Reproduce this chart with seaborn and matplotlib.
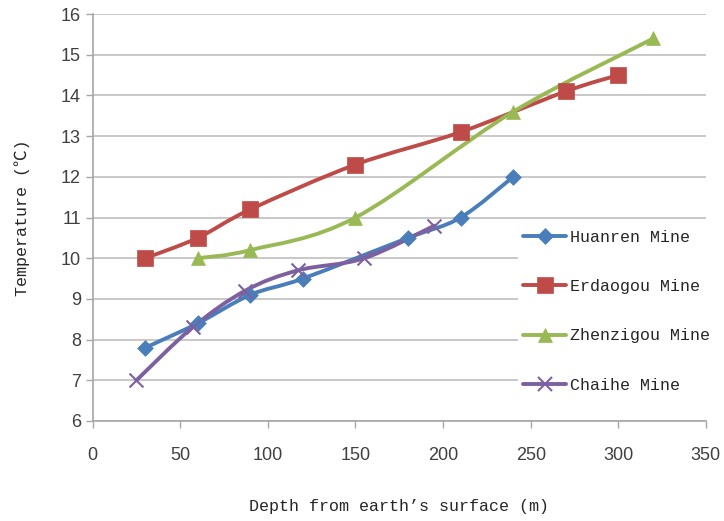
import numpy as np
import pandas as pd
import seaborn as sns
import matplotlib
matplotlib.use("Agg")
import matplotlib.pyplot as plt
from matplotlib.path import Path
from matplotlib.patches import PathPatch
from matplotlib.lines import Line2D

# data
huanren_depth = [30, 60, 90, 120, 180, 210, 240]
huanren_temp = [7.8, 8.4, 9.1, 9.5, 10.5, 11.0, 12.0]

erdaogou_depth = [30, 60, 90, 150, 210, 270, 300]
erdaogou_temp = [10.0, 10.5, 11.2, 12.3, 13.1, 14.1, 14.5]

zhenzigou_depth = [60, 90, 150, 240, 320]
zhenzigou_temp = [10.0, 10.2, 11.0, 13.6, 15.4]

chaihe_depth = [25, 57, 87, 117, 155, 195]
chaihe_temp = [7.0, 8.3, 9.2, 9.7, 10.0, 10.8]

mines = ["Huanren Mine", "Erdaogou Mine", "Zhenzigou Mine", "Chaihe Mine"]
colors = ["#4A7EBB", "#BE4B48", "#98B954", "#7D60A0"]
markers = ["D", "s", "^", "x"]
msizes = [8, 11, 10, 10]

frames = []
for name, d, t in [(mines[0], huanren_depth, huanren_temp),
                   (mines[1], erdaogou_depth, erdaogou_temp),
                   (mines[2], zhenzigou_depth, zhenzigou_temp),
                   (mines[3], chaihe_depth, chaihe_temp)]:
    frames.append(pd.DataFrame({"depth": d, "temp": t, "mine": name}))
df = pd.concat(frames, ignore_index=True)


def smooth_path(x, y):
    # excel-like smoothed line: cubic bezier through the points
    x = np.asarray(x, float)
    y = np.asarray(y, float)
    verts = [(x[0], y[0])]
    codes = [Path.MOVETO]
    n = len(x)
    for i in range(n - 1):
        x0, y0 = (x[i - 1], y[i - 1]) if i > 0 else (x[i], y[i])
        x3, y3 = (x[i + 2], y[i + 2]) if i + 2 < n else (x[i + 1], y[i + 1])
        c1 = (x[i] + (x[i + 1] - x0) / 6, y[i] + (y[i + 1] - y0) / 6)
        c2 = (x[i + 1] - (x3 - x[i]) / 6, y[i + 1] - (y3 - y[i]) / 6)
        verts += [c1, c2, (x[i + 1], y[i + 1])]
        codes += [Path.CURVE4] * 3
    return Path(verts, codes)


sns.set_theme(style="white")
plt.rcParams['font.family'] = ['Liberation Sans', 'DejaVu Sans']

fig = plt.figure(figsize=(7.24, 5.21), dpi=100)
ax = fig.add_axes([0.128, 0.192, 0.847, 0.781])

ax.grid(axis="y", color="#BFBFBF", linewidth=1.2)
ax.set_axisbelow(True)

for name, c, m, ms in zip(mines, colors, markers, msizes):
    sub = df[df["mine"] == name]
    ax.add_patch(PathPatch(smooth_path(sub["depth"], sub["temp"]),
                           facecolor="none", edgecolor=c, linewidth=2.8,
                           zorder=2, capstyle="round", joinstyle="round"))
    sns.scatterplot(data=sub, x="depth", y="temp", ax=ax, color=c,
                    marker=m, s=ms ** 2,
                    linewidth=1.5 if m == "x" else 0.5,
                    edgecolor=c, zorder=3, legend=False)

ax.set_xlim(0, 350)
ax.set_ylim(6, 16)
ax.set_xticks(np.arange(0, 351, 50))
ax.set_yticks(np.arange(6, 17, 1))
ax.tick_params(axis="both", which="both", direction="out", length=5,
               width=1, color="#A6A6A6", labelsize=13, labelcolor="#404040",
               bottom=True, left=True)
ax.tick_params(axis="x", pad=14)
for s in ["top", "right"]:
    ax.spines[s].set_visible(False)
for s in ["left", "bottom"]:
    ax.spines[s].set_color("#A6A6A6")
    ax.spines[s].set_linewidth(1.2)

mono = ['Liberation Mono', 'DejaVu Sans Mono']
ax.set_xlabel("Depth from earth\u2019s surface (m)", fontsize=12,
              family=mono, labelpad=25)
ax.set_ylabel("Temperature (\u2103)", fontsize=12, family=mono + ['Noto Sans CJK SC'],
              labelpad=22)

handles = [Line2D([], [], color=c, marker=m, markersize=ms, linewidth=2.8,
                  markeredgewidth=1.5 if m == "x" else 0.5, markeredgecolor=c)
           for c, m, ms in zip(colors, markers, msizes)]
leg = ax.legend(handles, mines, loc="upper left",
                bbox_to_anchor=(518 / 724, 1 - 225 / 521),
                bbox_transform=fig.transFigure, frameon=True,
                facecolor="white", edgecolor="none", framealpha=1,
                labelspacing=2.05, handlelength=2.6, handletextpad=0.2,
                borderpad=0.3, borderaxespad=0,
                prop={'family': mono, 'size': 12})

fig.savefig("out.png", dpi=100)
